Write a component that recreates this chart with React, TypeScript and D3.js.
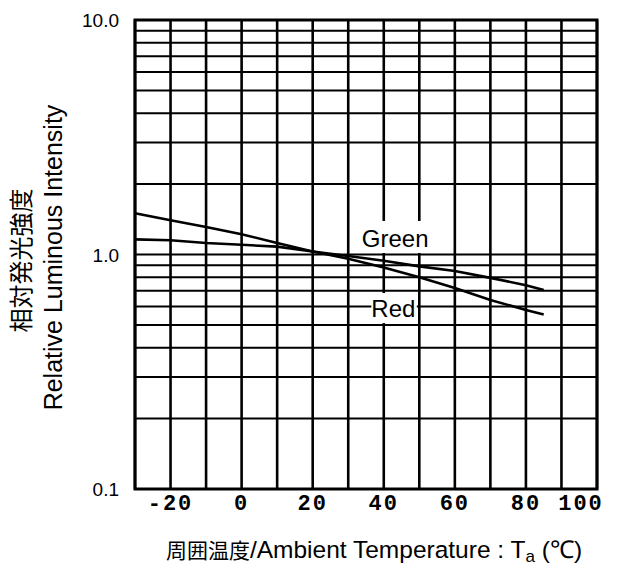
import React from 'react';
import * as d3 from 'd3';

// ambient temperature (°C) sampled along both curves
const temps = [-30, -20, -10, 0, 10, 20, 30, 40, 50, 60, 70, 80, 85];
const redValues = [1.5, 1.4, 1.31, 1.22, 1.12, 1.03, 0.96, 0.88, 0.8, 0.72, 0.64, 0.58, 0.555];
const greenValues = [1.16, 1.15, 1.12, 1.1, 1.08, 1.03, 0.985, 0.94, 0.89, 0.85, 0.795, 0.74, 0.705];

const xTickLabels = [-20, 0, 20, 40, 60, 80, 100];
const xGrid = d3.range(-30, 101, 10);
const yTickLabels = [
  { v: 10, label: '10.0' },
  { v: 1, label: '1.0' },
  { v: 0.1, label: '0.1' },
];
const yGrid = [...d3.range(1, 10).map(d => d / 10), ...d3.range(1, 11)];

const width = 621;
const height = 565;
const margin = { top: 20, right: 24, bottom: 76, left: 135 };

const sans = 'Liberation Sans, Arial, Helvetica, sans-serif';
const cjk = '"Noto Sans CJK JP", "Noto Sans CJK SC", sans-serif';

function App() {
  const x = d3.scaleLinear().domain([-30, 100]).range([margin.left, width - margin.right]);
  const y = d3.scaleLog().domain([0.1, 10]).range([height - margin.bottom, margin.top]);

  const line = d3.line<number>()
    .x((_, i) => x(temps[i]))
    .y(d => y(d));

  const [x0, x1] = x.range();
  const [yb, yt] = y.range();

  return (
    <svg width={width} height={height} style={{ position: 'absolute', left: 0, top: 0, background: '#fff' }}>
      {/* grid */}
      <g stroke="#000">
        {yGrid.map(v => (
          <line key={'h' + v} x1={x0} x2={x1} y1={y(v)} y2={y(v)} strokeWidth={2} />
        ))}
        {xGrid.map(t => (
          <line key={'v' + t} x1={x(t)} x2={x(t)} y1={yt} y2={yb} strokeWidth={2.6} />
        ))}
      </g>

      {/* white boxes behind curve labels */}
      <rect x={x(37)} y={y(1.39)} width={x(57) - x(37)} height={y(1.015) - y(1.39)} fill="#fff" />
      <rect x={x(36.5)} y={y(0.685)} width={x(49.3) - x(36.5)} height={y(0.51) - y(0.685)} fill="#fff" />

      <rect x={x0} y={yt} width={x1 - x0} height={yb - yt} fill="none" stroke="#000" strokeWidth={3} />

      {/* curves */}
      <path d={line(redValues) || ''} fill="none" stroke="#000" strokeWidth={2.6} />
      <path d={line(greenValues) || ''} fill="none" stroke="#000" strokeWidth={2.6} />

      <text x={x(43.2)} y={y(1.08)} textAnchor="middle" fontFamily={sans} fontSize={24}>Green</text>
      <text x={x(42.7)} y={y(0.54)} textAnchor="middle" fontFamily={sans} fontSize={24}>Red</text>

      {/* y tick labels */}
      {yTickLabels.map(d => (
        <text key={d.label} x={x0 - 16} y={y(d.v) + 7} textAnchor="end" fontFamily={sans} fontSize={19}>
          {d.label}
        </text>
      ))}

      {/* x tick labels */}
      {xTickLabels.map((t, i) => (
        <text
          key={t}
          x={x(t) + (i === xTickLabels.length - 1 ? -16 : 0)}
          y={yb + 21}
          textAnchor="middle"
          fontFamily="Liberation Mono, DejaVu Sans Mono, monospace"
          fontWeight="bold"
          fontSize={22}
          letterSpacing={2}
        >
          {t}
        </text>
      ))}

      {/* axis titles */}
      <g transform={`translate(30, ${(yt + yb) / 2 + 6}) rotate(-90)`}>
        <text textAnchor="middle" fontFamily={cjk} fontSize={24}>相対発光強度</text>
      </g>
      <g transform={`translate(62, ${(yt + yb) / 2 + 3}) rotate(-90)`}>
        <text textAnchor="middle" fontFamily={sans} fontSize={25}>Relative Luminous Intensity</text>
      </g>
      <text x={374} y={558} textAnchor="middle" fontFamily={sans} fontSize={24.5}>
        <tspan fontFamily={cjk} fontSize={21}>周囲温度</tspan>
        <tspan>/Ambient Temperature : T</tspan>
        <tspan fontSize={17} dy={4}>a</tspan>
        <tspan dy={-4}> (℃)</tspan>
      </text>
    </svg>
  );
}

export default App;
